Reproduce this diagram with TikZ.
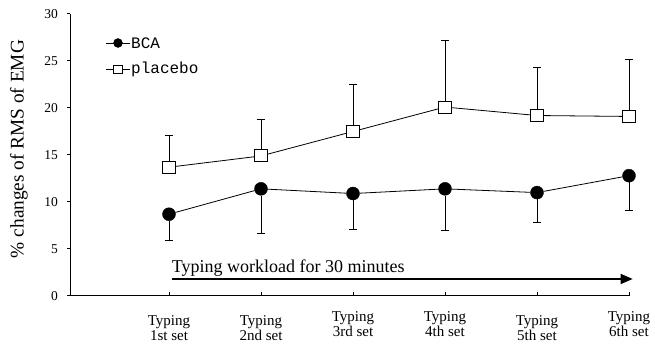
\documentclass[tikz,border=0pt]{standalone}
\usepackage{fontspec}
\setmainfont{Liberation Serif}
\setmonofont{Liberation Mono}
\usetikzlibrary{arrows.meta,positioning}

\begin{document}
\begin{tikzpicture}[
  x=1pt, y=1pt,
  font=\fontsize{13}{15}\selectfont,
  %% ─── styles ──────────────────────────────────────────────
  bcadot/.style={circle, draw=black, fill=black, inner sep=0pt, minimum size=13pt},
  plbox/.style={rectangle, draw=black, fill=white, line width=1pt, inner sep=0pt,
    minimum width=13pt, minimum height=12pt},
  trend/.style={line width=0.8pt},
  errbar/.style={line width=1pt, -{Bar[width=8pt,line width=1pt]}},
  axisline/.style={line width=1pt},
  ticklab/.style={anchor=east, inner sep=0pt, font=\fontsize{13.5}{15}\selectfont},
  xlab/.style={anchor=north, align=center, inner sep=0pt, font=\fontsize{15}{15.5}\selectfont},
  legtxt/.style={anchor=west, inner sep=1pt, font=\ttfamily\fontsize{16}{18}\selectfont},
  workarrow/.style={line width=1.4pt, -{Triangle[length=12pt,width=10pt]}}
]
  \useasboundingbox (0,0) rectangle (655,347);

  %% ─── 1. data area (x = set number, y = % change) ─────────
  \begin{scope}[shift={(77,51)}, x=92pt, y=9.4pt]
    \def\xo{-0.076}
    % axes
    \coordinate (org) at (\xo,0);
    \coordinate (ytop) at (\xo,30);
    \coordinate (xend) at (6,0);
    \draw[axisline] (ytop) -- (org) -- (xend);
    \foreach \v in {0,5,...,30} {
      \draw[axisline] (\xo,\v) -- ++(-3pt,0);
      \node[ticklab, xshift=-12pt] (ytk\v) at (\xo,\v) {\v};
    }
    \foreach \i in {1,...,6} {
      \coordinate (xt\i) at (\i,0);
      \draw[axisline] (xt\i) -- ++(0,4pt);
    }

    % workload arrow
    \coordinate (wk0) at (1.03,1.81);
    \coordinate (wk1) at (6.04,1.81);
    \draw[workarrow] (wk0) -- (wk1);
    \node[anchor=base west, inner sep=0pt, yshift=6pt,
          font=\fontsize{18}{20}\selectfont] (wklab) at (wk0) {Typing workload for 30 minutes};

    % markers + error bars
    \foreach \i/\pv/\pt/\bv/\bl in {1/13.7/17.1/8.7/5.9, 2/14.9/18.8/11.4/6.6,
        3/17.5/22.5/10.9/7.0, 4/20.1/27.2/11.4/6.9, 5/19.2/24.4/11.0/7.8,
        6/19.1/25.2/12.8/9.0} {
      \node[plbox] (pl\i) at (\i,\pv) {};
      \coordinate (plt\i) at (\i,\pt);
      \draw[errbar] (pl\i.north) -- (plt\i);
      \node[bcadot] (bc\i) at (\i,\bv) {};
      \coordinate (bcl\i) at (\i,\bl);
      \draw[errbar] (bc\i.south) -- (bcl\i);
    }
    \foreach \a/\b in {1/2,2/3,3/4,4/5,5/6} {
      \draw[trend] (pl\a) -- (pl\b);
      \draw[trend] (bc\a) -- (bc\b);
    }
  \end{scope}

  %% ─── 2. axis labels ─────────────────────────────────────
  \foreach \i/\n/\dy in {1/1st/-19, 2/2nd/-19, 3/3rd/-15, 4/4th/-15, 5/5th/-19, 6/6th/-15} {
    \node[xlab, yshift=\dy pt] (xl\i) at (xt\i) {Typing\\\n\ set};
  }
  \node[rotate=90, font=\fontsize{19.3}{21}\selectfont] (ylab) at (19,198)
    {\% changes of RMS of EMG};

  %% ─── 3. legend ─────────────────────────────────────────
  \coordinate (lga0) at (106,304);
  \coordinate (lga1) at (130,304);
  \draw[trend] (lga0) -- (lga1);
  \node[bcadot, minimum size=9pt] (lgbca) at (118,304) {};
  \node[legtxt] (lgbcat) at (lga1) {BCA};

  \coordinate (lgp0) at (106,278);
  \coordinate (lgp1) at (130,278);
  \draw[trend] (lgp0) -- (lgp1);
  \node[plbox, minimum width=9pt, minimum height=8pt, line width=0.8pt] (lgpl) at (118,278) {};
  \node[legtxt] (lgplt) at (lgp1) {placebo};
\end{tikzpicture}
\end{document}
